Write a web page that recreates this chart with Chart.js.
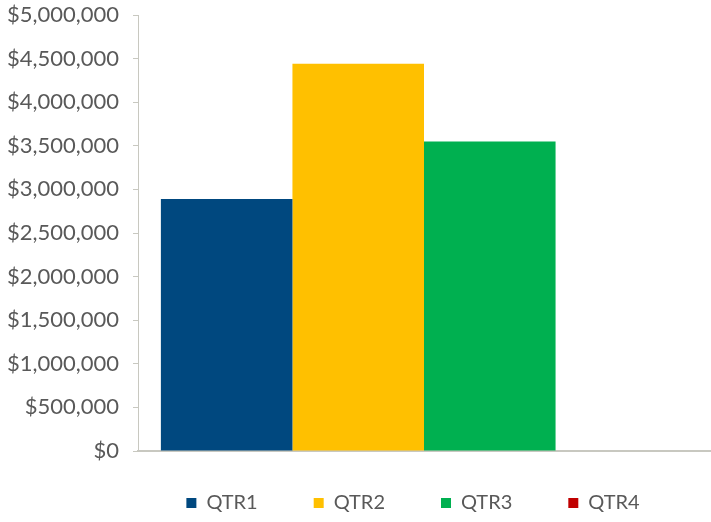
<!DOCTYPE html>
<html>
<head>
<meta charset="utf-8">
<script src="https://cdn.jsdelivr.net/npm/chart.js@4/dist/chart.umd.min.js"></script>
<style>
  html, body { margin: 0; padding: 0; background: #ffffff; }
  #wrap { width: 711px; height: 522px; }
</style>
</head>
<body>
<div id="wrap"><canvas id="salesChart"></canvas></div>
<script>
// --- quarterly totals ---
const categories = [''];
const seriesNames = ['QTR1', 'QTR2', 'QTR3', 'QTR4'];
const seriesValues = [2890000, 4440000, 3550000, 0];
const seriesColors = ['#00487f', '#ffc000', '#00b050', '#c00000'];
const yTicks = [0, 500000, 1000000, 1500000, 2000000, 2500000, 3000000, 3500000, 4000000, 4500000, 5000000];

const textGrey = '#595959';
const axisGrey = '#c8c8c0';

const datasets = seriesNames.map((name, i) => ({
    label: name,
    data: [seriesValues[i]],
    backgroundColor: seriesColors[i],
    borderWidth: 0,
    barPercentage: 1,
    categoryPercentage: 0.92
}));

// legend labels are spaced wide apart; lift the row up under the plot
const legendNudge = {
    id: 'legendNudge',
    afterLayout(chart) {
        const lg = chart.legend;
        if (!lg) return;
        lg.top -= 14;
        lg.left -= 11;
        lg.right -= 11;
    }
};

new Chart(document.getElementById('salesChart'), {
    type: 'bar',
    data: { labels: categories, datasets: datasets },
    options: {
        responsive: true,
        maintainAspectRatio: false,
        animation: false,
        layout: { padding: { top: 15, right: 1, left: 0, bottom: 0 } },
        font: { family: 'Lato', size: 20 },
        plugins: {
            tooltip: { enabled: false },
            legend: {
                position: 'bottom',
                fullSize: false,
                maxHeight: 71,
                labels: {
                    color: textGrey,
                    font: { family: 'Lato', size: 20 },
                    boxWidth: 10,
                    boxHeight: 10,
                    padding: 56
                }
            }
        },
        scales: {
            x: {
                ticks: { display: false },
                grid: { display: false, drawTicks: false },
                border: { display: true, color: axisGrey, width: 2 }
            },
            y: {
                min: 0,
                max: 5000000,
                afterBuildTicks: axis => { axis.ticks = yTicks.map(v => ({ value: v })); },
                afterFit: axis => {
                    axis.width = 138;
                    axis.paddingTop = 0;
                    axis.paddingBottom = 0;
                },
                ticks: {
                    color: textGrey,
                    padding: 14,
                    font: { family: 'Lato', size: 22 },
                    callback: v => '$' + v.toLocaleString('en-US')
                },
                grid: {
                    drawOnChartArea: false,
                    drawTicks: true,
                    tickLength: 5,
                    color: axisGrey
                },
                border: { display: true, color: axisGrey, width: 1 }
            }
        }
    },
    plugins: [legendNudge]
});
</script>
</body>
</html>
